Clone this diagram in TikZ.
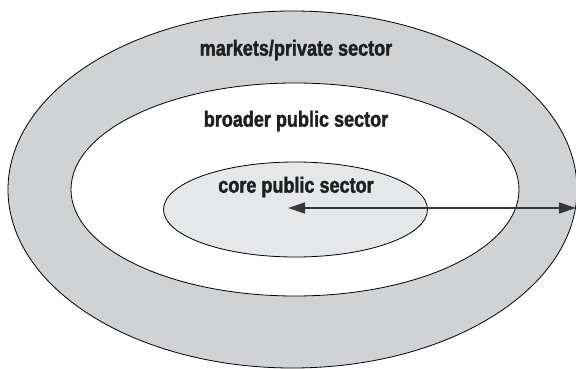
\documentclass[tikz,border=0pt]{standalone}
\usepackage{fontspec}
\newfontfamily\sectorfont{Liberation Sans}[FakeStretch=0.82, BoldFeatures={FakeBold=1.6}]
\usetikzlibrary{positioning, shapes.geometric, arrows.meta}
\usepackage{xcolor}
\definecolor{sectorgray}{RGB}{209, 210, 212}
\definecolor{coregray}{RGB}{230, 231, 232}
\definecolor{arrowgray}{RGB}{55, 55, 55}

\begin{document}
\begin{tikzpicture}[
  x=1pt, y=-1pt,
  sector/.style={ellipse, draw=black, line width=0.8pt, inner sep=0pt},
  sectorlabel/.style={font=\sectorfont\bfseries\fontsize{22}{25}\selectfont, text=black!88, inner sep=0pt},
  arrow/.style={{Triangle[length=17pt, width=11pt]}-{Triangle[length=17pt, width=11pt]}, line width=1.3pt, arrowgray}
]
\useasboundingbox (0,0) rectangle (576,369);

% Sector Ellipses
\node[sector, fill=sectorgray, minimum width=569pt, minimum height=357pt] (private) at (292.5,189.5) {};
\node[sector, fill=white, minimum width=448pt, minimum height=213pt] (broader) at (295,189.5) {};
\node[sector, fill=coregray, minimum width=264pt, minimum height=95pt] (core) at (295.5,209.5) {};

% Labels
\node[sectorlabel] (privatetext) at (296,50) {markets/private sector};
\node[sectorlabel] (broadertext) at (296,121) {broader public sector};
\node[sectorlabel] (coretext) at (296,187) {core public sector};

% Arrow
\coordinate (corecentre) at (288,208);
\coordinate (privateedge) at (576,208);
\draw[arrow] (corecentre) -- (privateedge);

\end{tikzpicture}
\end{document}
